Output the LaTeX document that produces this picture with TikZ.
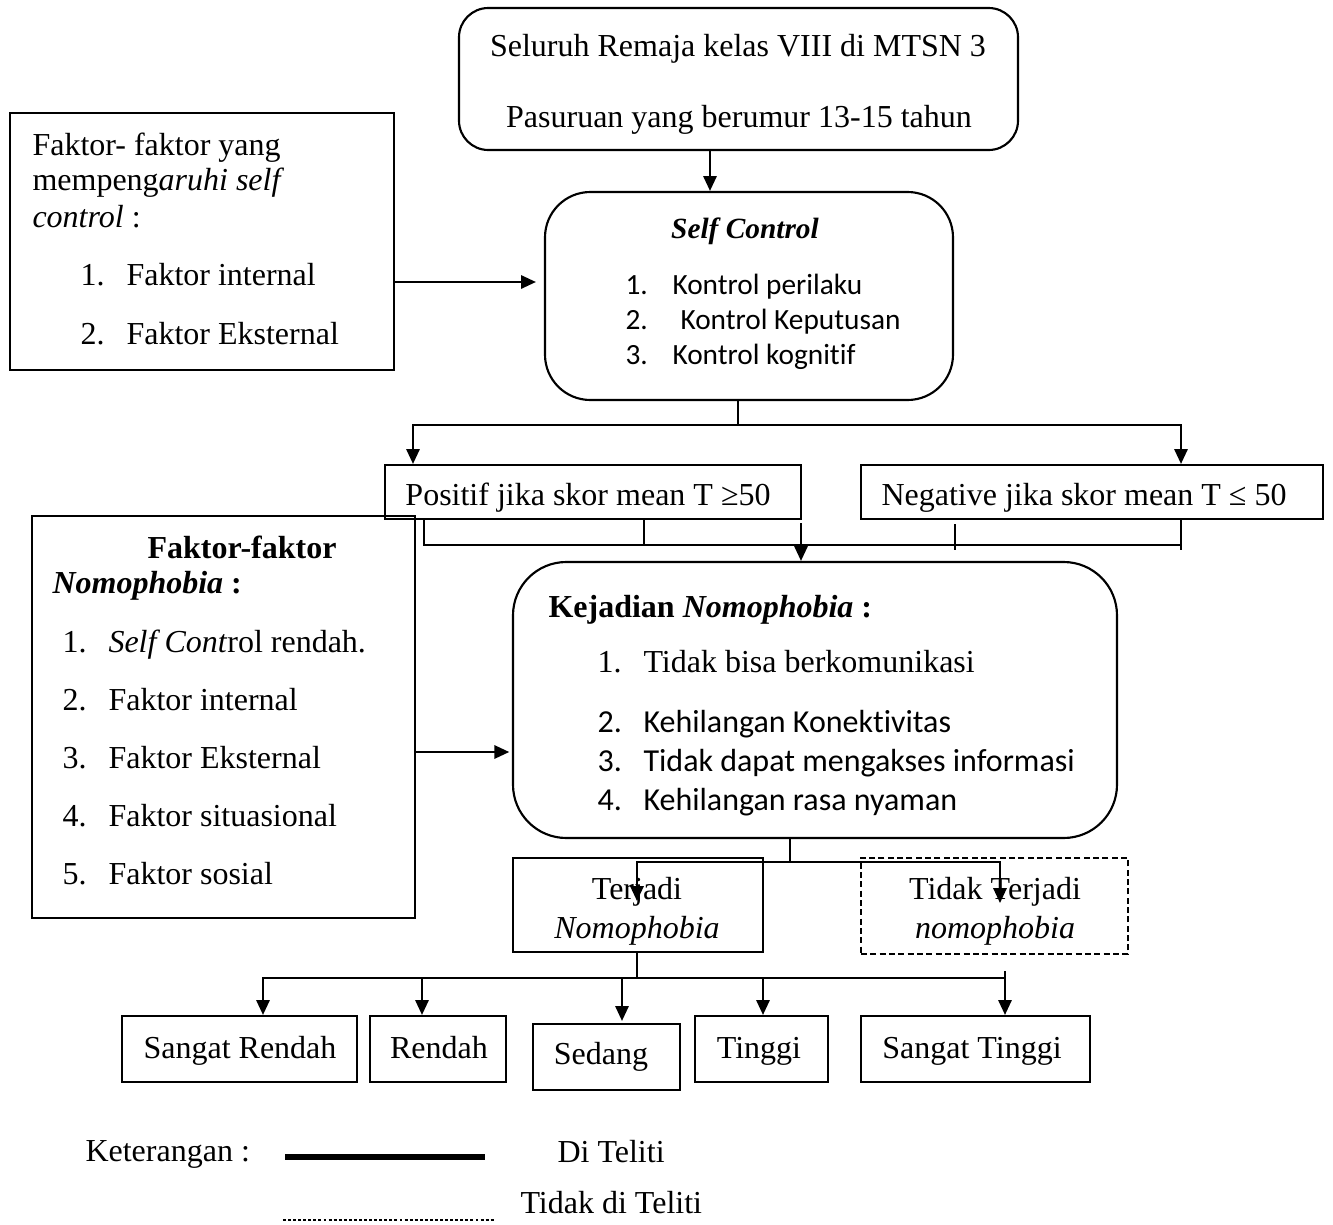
\documentclass[tikz,border=0pt]{standalone}
\usepackage{fontspec}
\setmainfont{Liberation Serif}
\newfontfamily\calfont[Ligatures=NoCommon]{Carlito}
\usetikzlibrary{arrows.meta,fit,calc}
\begin{document}
\begin{tikzpicture}[x=0.375pt,y=-0.375pt,
  box/.style={draw, line width=0.8pt, inner sep=0pt},
  rbox/.style={box, rounded corners=#1},
  conn/.style={line width=0.8pt},
  arr/.style={conn, -{Triangle[length=5.6pt,width=5pt]}},
  txt/.style={inner sep=0pt, anchor=base west, font=\fontsize{12}{14}\selectfont},
  ctxt/.style={txt, anchor=base},
  stxt/.style={txt, font=\fontsize{11}{13}\selectfont},
  sctxt/.style={stxt, anchor=base},
  ktxt/.style={txt, font=\calfont\fontsize{12}{14}\selectfont},
  kstxt/.style={txt, font=\calfont\fontsize{11}{13}\selectfont}
]
\useasboundingbox (0,0) rectangle (1333,1225);

% ---------- boxes ----------
\node[rbox=11pt, fit={(459,8) (1018,150)}] (top) {};
\node[rbox=17pt, fit={(545,192) (953,400)}] (sc) {};
\node[box, fit={(10,113) (394,370)}] (f1) {};
\node[box, fit={(385,465) (801,519)}] (pos) {};
\node[box, fit={(861,465) (1323,519)}] (neg) {};
\node[box, fit={(32,516) (415,918)}] (f2) {};
\node[rbox=20pt, fit={(513,562) (1117,838)}] (kej) {};
\node[box, fit={(513,858) (763,952)}] (ter) {};
\node[box, dash pattern=on 2.2pt off 1.3pt, fit={(861,858) (1128,954)}] (tter) {};
\node[box, fit={(122,1016) (357,1082)}] (sr) {};
\node[box, fit={(370,1016) (506,1082)}] (re) {};
\node[box, fit={(533,1024) (680,1090)}] (sd) {};
\node[box, fit={(695,1016) (828,1082)}] (tg) {};
\node[box, fit={(861,1016) (1090,1082)}] (stg) {};

% ---------- texts ----------
\node[ctxt] (t1) at (738,56) {Seluruh Remaja kelas VIII di MTSN 3};
\node[ctxt] (t2) at (739,127) {Pasuruan yang berumur 13-15 tahun};

\node[sctxt] (s0) at (745,238) {\textbf{\textit{Self Control}}};
\node[kstxt] (s1n) at (625,294) {1.};
\node[kstxt] (s1) at (672,294) {Kontrol perilaku};
\node[kstxt] (s2n) at (625,329) {2.};
\node[kstxt] (s2) at (680,329) {Kontrol Keputusan};
\node[kstxt] (s3n) at (625,364) {3.};
\node[kstxt] (s3) at (672,364) {Kontrol kognitif};

\node[txt] (a1) at (32,155) {Faktor- faktor yang};
\node[txt] (a2) at (32,190) {mempeng\textit{aruhi self}};
\node[txt] (a3) at (32,227) {\textit{control} :};
\node[txt] (a4n) at (80,285) {1.};
\node[txt] (a4) at (126,285) {Faktor internal};
\node[txt] (a5n) at (80,344) {2.};
\node[txt] (a5) at (126,344) {Faktor Eksternal};

\node[ctxt] (p1) at (588,505) {Positif jika skor mean T ≥50};
\node[ctxt] (n1) at (1084,505) {Negative jika skor mean T ≤ 50};

\node[ctxt] (b0) at (242,558) {\textbf{Faktor-faktor}};
\node[txt] (b1) at (52,593) {\textbf{\textit{Nomophobia}} \textbf{:}};
\node[txt] (b2n) at (62,652) {1.};
\node[txt] (b2) at (108,652) {\textit{Self Cont}rol rendah.};
\node[txt] (b3n) at (62,710) {2.};
\node[txt] (b3) at (108,710) {Faktor internal};
\node[txt] (b4n) at (62,768) {3.};
\node[txt] (b4) at (108,768) {Faktor Eksternal};
\node[txt] (b5n) at (62,826) {4.};
\node[txt] (b5) at (108,826) {Faktor situasional};
\node[txt] (b6n) at (62,884) {5.};
\node[txt] (b6) at (108,884) {Faktor sosial};

\node[txt] (k0) at (548,617) {\textbf{Kejadian} \textbf{\textit{Nomophobia}} \textbf{:}};
\node[txt] (k1n) at (597,672) {1.};
\node[txt] (k1) at (643,672) {Tidak bisa berkomunikasi};
\node[ktxt] (k2n) at (597,732) {2.};
\node[ktxt] (k2) at (643,732) {Kehilangan Konektivitas};
\node[ktxt] (k3n) at (597,771) {3.};
\node[ktxt] (k3) at (643,771) {Tidak dapat mengakses informasi};
\node[ktxt] (k4n) at (597,810) {4.};
\node[ktxt] (k4) at (643,810) {Kehilangan rasa nyaman};

\node[ctxt] (r1) at (637,899) {Terjadi};
\node[ctxt] (r2) at (637,938) {\textit{Nomophobia}};
\node[ctxt] (q1) at (995,899) {Tidak Terjadi};
\node[ctxt] (q2) at (995,938) {\textit{nomophobia}};

\node[ctxt] (l1) at (240,1058) {Sangat Rendah};
\node[ctxt] (l2) at (439,1058) {Rendah};
\node[ctxt] (l3) at (601,1064) {Sedang};
\node[ctxt] (l4) at (759,1058) {Tinggi};
\node[ctxt] (l5) at (972,1058) {Sangat Tinggi};

% ---------- connectors ----------
\coordinate (c0) at (710,150);
\draw[arr] (top.south -| c0) -- (sc.north -| c0);

\coordinate (c1) at (0,282);
\draw[arr, shorten >=3pt] (f1.east |- c1) -- (sc.west |- c1);

\coordinate (j1) at (738,425);
\coordinate (j1l) at (413,425);
\coordinate (j1r) at (1181,425);
\draw[conn] (sc.south -| j1) -- (j1);
\draw[arr] (j1) -- (j1l) -- (pos.north -| j1l);
\draw[arr] (j1) -- (j1r) -- (neg.north -| j1r);

\coordinate (m1) at (424,545);
\coordinate (m2) at (644,545);
\coordinate (m4) at (1181,545);
\coordinate (m3t) at (955,524);
\coordinate (m3b) at (955,550);
\coordinate (m4b) at (1181,550);
\draw[conn] (pos.south -| m1) -- (m1) -- (m4);
\draw[conn] (pos.south -| m2) -- (m2);
\draw[conn] (m3t) -- (m3b);
\draw[conn] (neg.south -| m4) -- (m4b);
\coordinate (m5) at (801,523);
\draw[arr] (m5) -- (kej.north -| m5);

\coordinate (c2) at (0,752);
\draw[arr, shorten >=1pt] (f2.east |- c2) -- (kej.west |- c2);

\coordinate (j2) at (790,862);
\coordinate (j2l) at (637,862);
\coordinate (j2r) at (1000,862);
\coordinate (j2le) at (637,901);
\coordinate (j2re) at (1000,903);
\draw[conn] (kej.south -| j2) -- (j2);
\draw[arr] (j2) -- (j2l) -- (j2le);
\draw[arr] (j2) -- (j2r) -- (j2re);

\coordinate (j3) at (637,978);
\coordinate (j3l) at (263,978);
\coordinate (j3r) at (1005,978);
\coordinate (j3rt) at (1005,971);
\coordinate (h2) at (422,978);
\coordinate (h3) at (622,978);
\coordinate (h4) at (763,978);
\draw[conn] (ter.south -| j3) -- (j3);
\draw[arr] (j3) -- (j3l) -- (sr.north -| j3l);
\draw[conn] (j3) -- (j3r);
\draw[arr] (j3rt) -- (stg.north -| j3r);
\draw[arr] (h2) -- (re.north -| h2);
\draw[arr] (h3) -- ($(sd.north -| h3)+(0,-2)$);
\draw[arr] (h4) -- (tg.north -| h4);

% ---------- legend ----------
\node[txt] (g1) at (85,1161) {Keterangan :};
\coordinate (g2a) at (285,1157);
\coordinate (g2b) at (485,1157);
\draw[line width=2pt] (g2a) -- (g2b);
\node[txt] (g3) at (557,1162) {Di Teliti};
\coordinate (g4a) at (283,1220);
\coordinate (g4b) at (495,1220);
\draw[line width=0.7pt, dash pattern=on 1.1pt off 0.8pt] (g4a) -- (g4b);
\node[txt] (g5) at (520,1213) {Tidak di Teliti};
\end{tikzpicture}
\end{document}
